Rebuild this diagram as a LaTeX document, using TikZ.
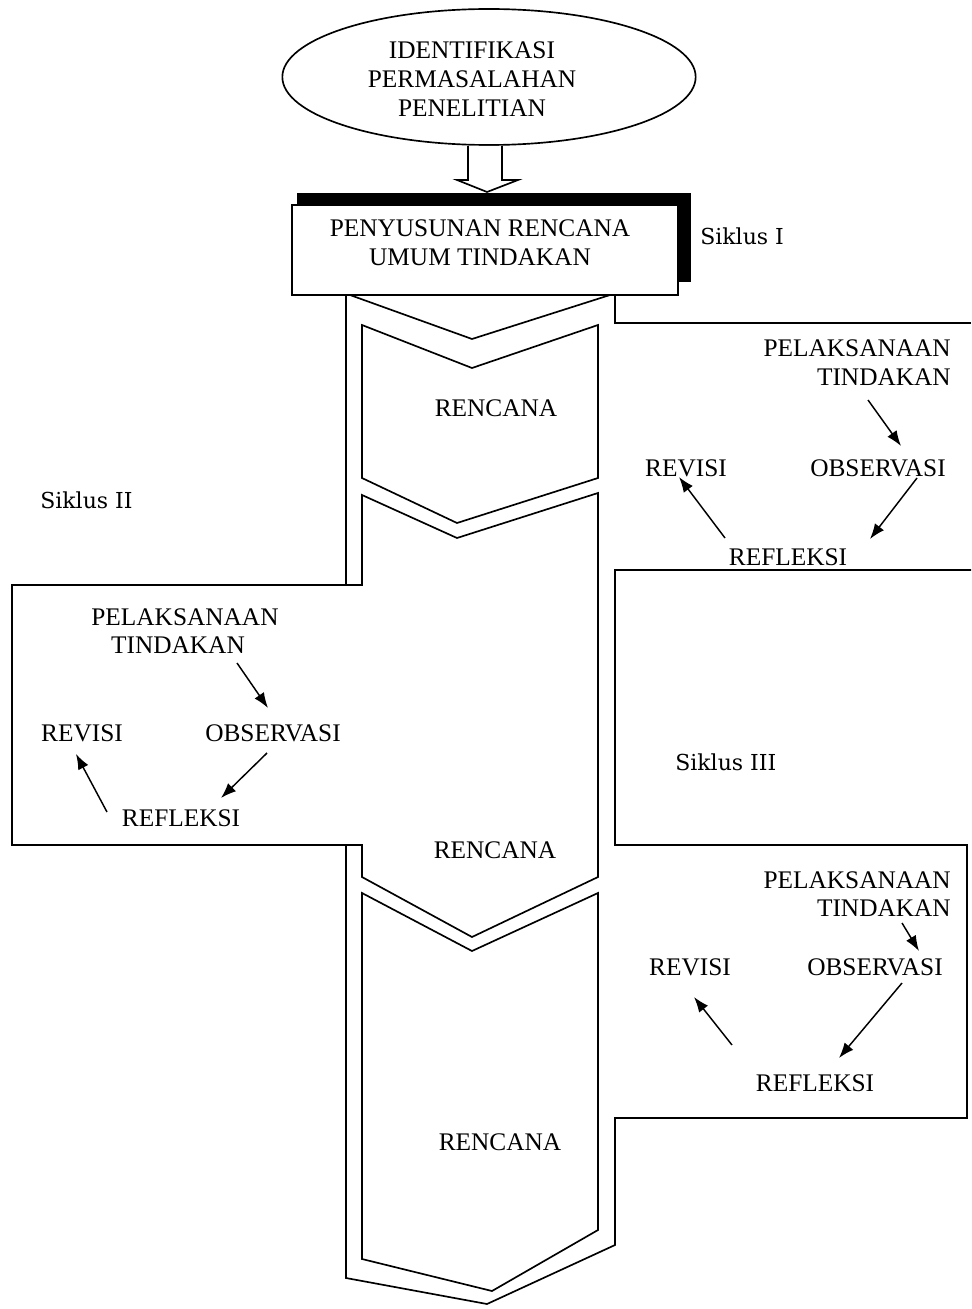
\documentclass[tikz,border=0pt]{standalone}
\usepackage{fontspec}
\setmainfont{Liberation Serif}
\newfontfamily\siklusfont{DejaVu Serif}
\usetikzlibrary{arrows.meta,shapes.geometric}
\begin{document}
\begin{tikzpicture}[x=0.75pt,y=-0.75pt,
  lbl/.style={font=\fontsize{19}{21.5}\selectfont, inner sep=0pt},
  sik/.style={font=\siklusfont\fontsize{16.5}{18}\selectfont, inner sep=0pt},
  outl/.style={line width=1.25pt, line join=miter},
  cyc/.style={-{Latex[length=11.5pt,width=8.5pt]}, line width=1.1pt}]
\useasboundingbox (0,0) rectangle (971,1309);

% top ellipse
\node[ellipse, draw, outl, minimum width=310pt, minimum height=102pt] (ident) at (489,77) {};
\node[lbl, align=center] (identtext) at (472,79) {IDENTIFIKASI\\PERMASALAHAN\\PENELITIAN};

% hollow arrow
\draw[outl, fill=white] (468,146) -- (468,180) -- (457,180) -- (487,192) -- (518,180) -- (502,180) -- (502,146);

% box with shadow
\fill[black] (297,193) rectangle (691,282);
\node[draw, outl, fill=white, minimum width=289.5pt, minimum height=67.5pt, inner sep=0pt] (plan) at (485,250) {};
\node[lbl, align=center] (plantext) at (480,243) {PENYUSUNAN RENCANA\\UMUM TINDAKAN};
\node[sik, anchor=west] (s1) at (700,236) {Siklus I};

% outer band
\draw[outl] (346,295) -- (346,585);
\draw[outl] (350,295) -- (472,339) -- (610,295);
\draw[outl] (615,295) -- (615,323) -- (971,323);
\draw[outl] (971,570) -- (615,570) -- (615,845) -- (967,845) -- (967,1118) -- (615,1118)
  -- (615,1245) -- (487,1304) -- (346,1278) -- (346,845);

% inner shapes
\draw[outl] (362,325) -- (472,368) -- (598,325) -- (598,478) -- (457,523) -- (362,478) -- cycle;
\draw[outl] (362,495) -- (457,538) -- (598,493) -- (598,877) -- (472,937) -- (362,877)
  -- (362,845) -- (12,845) -- (12,585) -- (362,585) -- cycle;
\draw[outl] (362,893) -- (472,951) -- (598,893) -- (598,1230) -- (492,1291) -- (362,1259) -- cycle;

\node[lbl] (ren1) at (496,408) {RENCANA};
\node[lbl] (ren2) at (495,850) {RENCANA};
\node[lbl] (ren3) at (500,1142) {RENCANA};

% Siklus I cycle
\node[lbl, anchor=east] (p1) at (951,348) {PELAKSANAAN};
\node[lbl, anchor=east] (t1) at (951,377) {TINDAKAN};
\node[lbl] (rv1) at (686,468) {REVISI};
\node[lbl] (ob1) at (878,468) {OBSERVASI};
\node[lbl] (rf1) at (788,557) {REFLEKSI};
\coordinate (c1a) at (868,400); \coordinate (c1b) at (901,446);
\coordinate (c1c) at (917,478); \coordinate (c1d) at (870,539);
\coordinate (c1e) at (725,538); \coordinate (c1f) at (679,477);
\draw[cyc] (c1a) -- (c1b);
\draw[cyc] (c1c) -- (c1d);
\draw[cyc] (c1e) -- (c1f);

% Siklus II cycle
\node[sik, anchor=west] (s2) at (40,500) {Siklus II};
\node[lbl] (p2) at (185,617) {PELAKSANAAN};
\node[lbl] (t2) at (178,645) {TINDAKAN};
\node[lbl] (rv2) at (82,733) {REVISI};
\node[lbl] (ob2) at (273,733) {OBSERVASI};
\node[lbl] (rf2) at (181,818) {REFLEKSI};
\coordinate (c2a) at (237,663); \coordinate (c2b) at (268,708);
\coordinate (c2c) at (267,753); \coordinate (c2d) at (221,798);
\coordinate (c2e) at (107,812); \coordinate (c2f) at (76,754);
\draw[cyc] (c2a) -- (c2b);
\draw[cyc] (c2c) -- (c2d);
\draw[cyc] (c2e) -- (c2f);

% Siklus III cycle
\node[sik, anchor=west] (s3) at (675,762) {Siklus III};
\node[lbl, anchor=east] (p3) at (951,880) {PELAKSANAAN};
\node[lbl, anchor=east] (t3) at (951,908) {TINDAKAN};
\node[lbl] (rv3) at (690,967) {REVISI};
\node[lbl] (ob3) at (875,967) {OBSERVASI};
\node[lbl] (rf3) at (815,1083) {REFLEKSI};
\coordinate (c3a) at (902,923); \coordinate (c3b) at (919,951);
\coordinate (c3c) at (902,983); \coordinate (c3d) at (839,1058);
\coordinate (c3e) at (732,1045); \coordinate (c3f) at (694,997);
\draw[cyc] (c3a) -- (c3b);
\draw[cyc] (c3c) -- (c3d);
\draw[cyc] (c3e) -- (c3f);
\end{tikzpicture}
\end{document}
